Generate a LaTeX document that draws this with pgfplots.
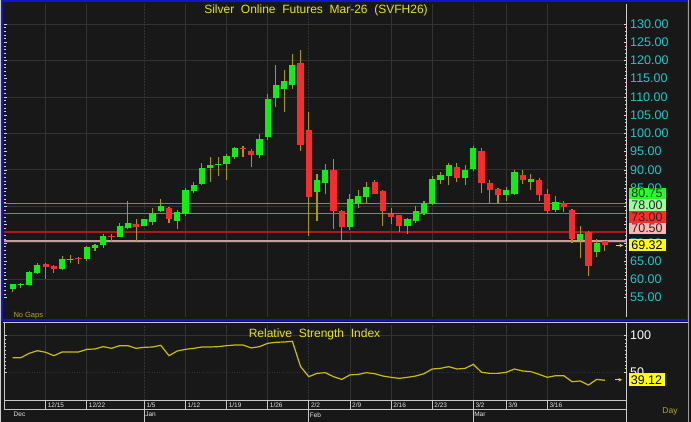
\documentclass[border=0pt]{standalone}
\usepackage{pgfplots}
\usepackage{pgfplotstable}
\pgfplotsset{compat=1.18}
\usepackage{fontspec}
\setmainfont{Liberation Sans}

\definecolor{bg}{HTML}{181818}
\definecolor{gridc}{HTML}{333333}
\definecolor{stripline}{HTML}{C8C8C8}
\definecolor{striptext}{HTML}{E6E6E6}
\definecolor{upc}{HTML}{10F010}
\definecolor{dnc}{HTML}{F82C2C}
\definecolor{wick}{HTML}{A89A00}
\definecolor{titc}{HTML}{E6E600}
\definecolor{rsic}{HTML}{C8C000}
\definecolor{cyanlbl}{HTML}{18C8CC}
\definecolor{levelgreen}{HTML}{00D800}
\definecolor{levellightgreen}{HTML}{3CB03C}
\definecolor{levelred}{HTML}{B01818}
\definecolor{levelpink}{HTML}{C89C9C}
\definecolor{boxA}{HTML}{22FF22}
\definecolor{boxB}{HTML}{9CFF9C}
\definecolor{boxC}{HTML}{FF2A2A}
\definecolor{boxD}{HTML}{FFB4B4}
\definecolor{boxE}{HTML}{FFFF00}
\definecolor{frameblue}{HTML}{1414C8}
\definecolor{olivetxt}{HTML}{B0A820}

% up candles: index open high low close
\pgfplotstableread{
i o h l c
0 57.45 58.8 56.45 58.6
1 58.5 59.1 57.5 58.7
2 58.45 62.4 58.3 62.1
3 61.8 64.4 61.5 63.9
6 62.7 66.4 62.5 65.5
7 65.4 66.6 64.4 65.6
9 65.6 69.2 65.1 68.8
10 68.7 69.8 67.8 69.4
11 69.4 72.4 68.6 72.0
13 71.6 75.5 71.5 74.7
14 74.1 81.6 73.7 75.5
16 74.6 76.6 74.5 76.5
17 75.8 79.6 74.9 78.3
18 78.6 82.0 78.5 80.0
20 75.9 78.9 73.8 78.5
21 78.0 85.1 77.3 84.6
22 84.3 86.6 83.6 85.9
23 86.0 91.8 85.8 90.6
24 90.5 93.5 86.8 91.2
25 91.2 93.5 88.3 91.7
26 91.5 94.4 87.3 93.7
27 93.4 96.3 93.0 95.9
30 94.1 99.7 93.3 98.4
31 98.9 110.7 98.3 109.5
32 109.6 118.7 107.3 113.3
33 112.1 117.4 105.9 114.4
34 113.3 121.9 112.3 118.7
37 83.9 88.9 75.9 87.3
38 86.4 91.5 83.4 90.0
41 74.4 83.3 73.6 81.9
42 80.7 84.4 79.6 82.7
43 82.5 86.6 80.9 85.2
48 74.5 76.8 72.3 76.5
49 76.1 80.1 75.5 78.6
50 78.3 81.6 77.5 81.0
51 80.6 88.2 80.5 87.4
52 87.1 89.4 86.1 88.5
53 88.3 91.8 85.8 91.2
55 87.7 91.2 85.8 90.1
56 90.2 96.6 89.8 96.0
60 83.0 85.3 81.6 84.5
61 83.3 90.0 83.2 89.4
63 86.6 88.9 84.5 87.4
66 79.1 82.7 78.5 81.2
69 70.7 74.7 65.7 72.4
71 67.5 71.0 66.0 70.0
}\upc

% down candles
\pgfplotstableread{
i o h l c
4 64.1 64.6 60.2 63.5
5 63.6 63.9 61.8 62.7
8 65.9 66.2 64.2 65.7
12 72.0 72.4 70.1 71.6
15 75.2 76.4 70.5 74.4
19 79.6 79.8 75.4 76.5
28 96.0 96.6 93.6 95.7
29 95.3 95.7 90.7 94.1
35 119.3 122.9 95.2 96.9
36 101.0 105.8 71.8 82.5
39 90.0 93.0 73.8 78.6
40 78.6 79.1 70.9 74.4
44 86.6 87.1 83.3 83.5
45 84.3 84.5 74.7 78.8
46 77.9 79.6 75.1 77.1
47 77.5 77.7 73.0 74.5
54 90.9 91.8 86.6 87.7
57 95.2 96.0 83.6 86.4
58 86.5 87.3 80.9 84.4
59 84.8 85.0 80.9 83.0
62 88.7 90.0 86.2 87.1
64 87.3 87.8 81.6 83.2
65 83.5 84.7 78.3 78.6
67 81.0 81.6 78.5 79.8
68 79.1 79.4 70.0 71.0
70 73.0 73.2 60.9 63.6
72 70.4 70.5 67.8 69.32
}\dnc

% RSI
\pgfplotstableread{
i r
0 69.9
1 69.9
2 75.8
3 79.4
4 77.2
5 72.6
6 77.6
7 77.6
8 77.6
9 81.2
10 81.7
11 84.9
12 82.6
13 86.2
14 86.2
15 82.6
16 84.0
17 84.4
18 86.7
19 72.6
20 79.0
21 81.2
22 82.6
23 84.4
24 84.4
25 84.9
26 86.2
27 87.1
28 87.1
29 83.1
30 84.9
31 89.4
32 90.8
33 91.2
34 92.1
35 57.7
36 44.1
37 48.6
38 49.5
39 44.1
40 40.4
41 46.5
42 47.2
43 49.5
44 48.1
45 45.0
46 43.2
47 41.8
48 43.2
49 45.0
50 48.1
51 54.5
52 55.4
53 57.7
54 54.5
55 55.4
56 60.8
57 50.0
58 48.6
59 48.6
60 50.0
61 54.5
62 51.8
63 50.9
64 47.2
65 43.2
66 45.4
67 45.4
68 37.3
69 38.2
70 32.7
71 40.4
72 39.12
}\rsi

\pgfplotsset{
  base/.style={
    scale only axis, width=622.7pt, xmin=-1.06, xmax=74.65, anchor=south west,
    axis background/.style={fill=bg},
    axis line style={draw=none},
    x tick style={draw=none},
    y tick style={draw=white!85!black, line width=0.5pt},
    tick align=inside, major tick length=3pt, minor tick length=1.8pt,
    /pgf/number format/assume math mode=true,
    xtick={4,9,21,26,31,41,46,51,60,65}, xticklabels={},
    xmajorgrids,
    major grid style={gridc, line width=0.8pt},
    extra x ticks={16,36,56}, extra x tick labels={},
    extra x tick style={xmajorgrids=true, major grid style={gridc, line width=0.8pt, dash pattern=on 1.5pt off 1.5pt}},
  },
  candle/.style={mark=none, draw=none, forget plot, error bars/.cd, y dir=plus, y explicit, error mark=none},
}

\begin{document}
\begin{tikzpicture}[x=1pt,y=1pt]
\path[use as bounding box] (0,0) rectangle (691,422);
\fill[bg] (0,0) rectangle (691,422);

% ---------- price panel ----------
\begin{axis}[base, at={(4pt,105pt)}, height=313pt,
  ymin=49.66, ymax=135.48,
  ytick={55,60,...,130}, minor y tick num=4,
  yticklabel pos=right,
  yticklabel style={anchor=west, text=cyanlbl, font=\fontsize{12.5}{14}\selectfont,
    /pgf/number format/.cd, fixed, fixed zerofill, precision=2},
  extra y ticks={60,70,...,130}, extra y tick labels={},
  extra y tick style={ymajorgrids=true},
]
\addplot[draw=levelgreen, mark=none, line width=1.5pt] coordinates {(-1.06,80.75) (74.65,80.75)};
\addplot[draw=levellightgreen, mark=none, line width=1.4pt] coordinates {(-1.06,78.00) (74.65,78.00)};
\addplot[draw=levelred, mark=none, line width=1.8pt] coordinates {(-1.06,73.00) (74.65,73.00)};
\addplot[draw=levelpink, mark=none, line width=1.6pt] coordinates {(-1.06,70.50) (74.65,70.50)};
% wicks
\addplot[candle, error bar style={draw=wick, line width=1.1pt}]
  table[x=i, y=l, y error plus expr=\thisrow{h}-\thisrow{l}] {\upc};
\addplot[candle, error bar style={draw=wick, line width=1.1pt}]
  table[x=i, y=l, y error plus expr=\thisrow{h}-\thisrow{l}] {\dnc};
% bodies
\addplot[candle, error bar style={draw=upc, line width=6.2pt}]
  table[x=i, y=o, y error plus expr=\thisrow{c}-\thisrow{o}] {\upc};
\addplot[candle, error bar style={draw=dnc, line width=6.2pt}]
  table[x=i, y=c, y error plus expr=\thisrow{o}-\thisrow{c}] {\dnc};
\end{axis}

% ---------- RSI panel ----------
\begin{axis}[base, at={(4pt,22pt)}, height=75pt,
  ymin=12.4, ymax=114.3,
  ytick={50,100}, minor y tick num=9,
  yticklabel pos=right,
  yticklabel style={anchor=west, text=white, font=\fontsize{12.5}{14}\selectfont},
  ymajorgrids, y grid style={gridc, dash pattern=on 1pt off 1.5pt},
  extra y ticks={100}, extra y tick labels={},
  extra y tick style={ymajorgrids=true, y grid style={gridc, solid}},
]
\addplot[color=rsic, mark=none, line width=1.2pt] table[x=i, y=r] {\rsi};
\end{axis}

% ---------- week strip ----------
\begin{axis}[scale only axis, width=622.7pt, height=8.8pt, at={(4pt,12.7pt)}, anchor=south west,
  xmin=-1.06, xmax=74.65, ymin=0, ymax=1, ytick=\empty,
  xtick={4,9,16,21,26,31,36,41,46,51,56,60,65},
  xticklabels={12/15,12/22,1/5,1/12,1/19,1/26,2/2,2/9,2/16,2/23,3/2,3/9,3/16},
  xticklabel style={anchor=west, inner sep=0pt, xshift=2pt, yshift=4.4pt, text=striptext,
    font=\fontsize{6.5}{7}\selectfont},
  x tick style={draw=none},
  xmajorgrids, major grid style={stripline, line width=0.8pt},
  axis line style={stripline, line width=0.8pt},
  axis background/.style={fill=bg},
]
\end{axis}

% ---------- month strip ----------
\begin{axis}[scale only axis, width=622.7pt, height=12.7pt, at={(4pt,0pt)}, anchor=south west,
  xmin=-1.06, xmax=74.65, ymin=0, ymax=1, ytick=\empty,
  xtick={0,16,36,56}, xticklabels={Dec,Jan,Feb,Mar},
  xticklabel style={anchor=west, inner sep=0pt, xshift=0.8pt, yshift=7.3pt, text=striptext,
    font=\fontsize{6.5}{7}\selectfont},
  x tick style={draw=none},
  axis line style={draw=none},
  extra x ticks={16,36,56}, extra x tick labels={},
  extra x tick style={xmajorgrids=true},
  major grid style={stripline, line width=0.8pt},
]
\end{axis}

% ---------- frames ----------
\draw[white!80!black, line width=1.2pt] (0.6,0) -- (0.6,422);
\draw[frameblue, line width=2pt] (2,101.8) rectangle (687.5,420.8);
\draw[stripline, line width=0.9pt] (3,99.5) -- (688,99.5);
\draw[stripline, line width=0.9pt] (4,12.7) -- (4,99.5);
\draw[white!80!black, line width=0.8pt] (626.7,105) -- (626.7,418);
\draw[white!80!black, line width=0.8pt] (626.7,0) -- (626.7,99.5);
\draw[white!60!black, line width=1pt] (688.8,0) -- (688.8,422);

% ---------- texts ----------
\node[text=titc, font=\fontsize{12}{14}\selectfont] at (316,411.3)
  {Silver\ \ Online\ \ Futures\ \ Mar-26\ \ (SVFH26)};
\node[text=titc, font=\fontsize{12}{14}\selectfont] at (314.5,87.7)
  {Relative\ \ Strength\ \ Index};
\node[text=olivetxt, font=\fontsize{7.5}{8}\selectfont, anchor=west, inner sep=0pt] at (13.3,106.3) {No Gaps};
\node[text=olivetxt, font=\fontsize{8.5}{9}\selectfont] at (670,11) {Day};

% ---------- value boxes ----------
\tikzset{vbox/.style={anchor=west, minimum width=37pt, minimum height=11.7pt, inner sep=0pt,
  font=\fontsize{12.5}{13}\selectfont, text=black!85}}
\node[vbox, fill=boxA] at (628.3,228.5) {80.75};
\node[vbox, fill=boxB] at (628.3,216.8) {78.00};
\node[vbox, fill=boxC] at (628.3,205.1) {73.00};
\node[vbox, fill=boxD] at (628.3,193.4) {70.50};
\node[vbox, fill=boxE, text=black] at (628.3,176.8) {69.32};
\node[vbox, fill=boxE, text=black, minimum width=36pt, minimum height=13pt] at (628.3,42.2) {39.12};
\draw[titc, line width=0.6pt, ->, >=stealth] (616,176.5) -- (623,176.5);
\draw[titc, line width=0.6pt, ->, >=stealth] (615,42.2) -- (622,42.2);
\end{tikzpicture}
\end{document}
